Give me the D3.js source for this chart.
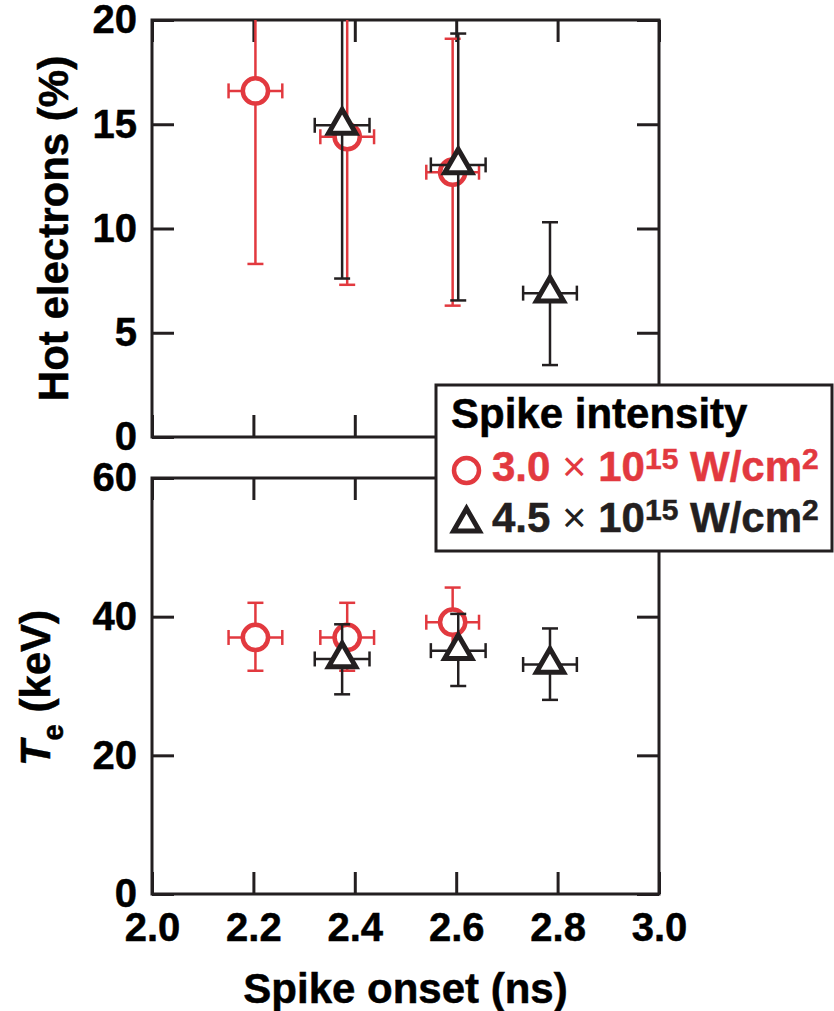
<!DOCTYPE html>
<html>
<head>
<meta charset="utf-8">
<script src="https://cdn.jsdelivr.net/npm/d3@7"></script>
<style>
  html, body { margin: 0; padding: 0; background: #fff; }
  svg text { font-family: "Liberation Sans", Arial, Helvetica, sans-serif; font-weight: bold; }
</style>
</head>
<body>
<div id="chart"></div>
<script>
// Spike onset (ns) for each series, shared by both panels
const redOnset = [2.204, 2.385, 2.593];
const redOnsetErr = [0.053, 0.053, 0.052];
const blackOnset = [2.375, 2.604, 2.785];
const blackOnsetErr = [0.054, 0.054, 0.053];

// Hot electrons (%) -- upper limits above 20 run off the top of the panel
const redHot = [16.6, 14.4, 12.7];
const redHotLow = [8.3, 7.3, 6.3];
const redHotHigh = [25, 25, 19.1];
const blackHot = [14.95, 13.05, 6.9];
const blackHotLow = [7.6, 6.55, 3.45];
const blackHotHigh = [25, 19.35, 10.3];

// Te (keV)
const redTe = [37.0, 37.0, 39.2];
const redTeLow = [32.2, 32.2, 34.2];
const redTeHigh = [42.0, 42.0, 44.2];
const blackTe = [33.9, 35.1, 33.1];
const blackTeLow = [28.8, 30.0, 28.0];
const blackTeHigh = [38.9, 40.4, 38.3];

const xTicks = [2.0, 2.2, 2.4, 2.6, 2.8, 3.0];
const hotTicks = [0, 5, 10, 15, 20];
const teTicks = [0, 20, 40, 60];

const RED = "#e2393f";
const INK = "#231f20";

const width = 834, height = 1011;
const svg = d3.select("#chart").append("svg")
  .attr("width", width)
  .attr("height", height);

const x = d3.scaleLinear().domain([2.0, 3.0]).range([152, 659]);
const yHot = d3.scaleLinear().domain([0, 20]).range([437, 20]);
const yTe = d3.scaleLinear().domain([0, 60]).range([894, 478]);

function rows(xs, xe, ys, lo, hi) {
  return xs.map((v, i) => ({ x: v, xe: xe[i], y: ys[i], lo: lo[i], hi: hi[i] }));
}

const triangle = d3.symbol(d3.symbolTriangle, 320);
const circle = d3.symbol(d3.symbolCircle, Math.PI * 12.6 * 12.6);

function drawPanel(name, y, ticks, series, showX) {
  const [r0, r1] = y.range();
  const g = svg.append("g").attr("class", name);

  g.append("clipPath").attr("id", "clip-" + name)
    .append("rect")
    .attr("x", x(2.0)).attr("y", r1)
    .attr("width", x(3.0) - x(2.0)).attr("height", r0 - r1);

  // axes, ticks pointing inward on all four sides
  g.append("g").attr("transform", `translate(${x(2.0)},0)`)
    .call(d3.axisLeft(y).tickValues(ticks).tickSize(-22).tickSizeOuter(0).tickPadding(15));
  g.append("g").attr("transform", `translate(${x(3.0)},0)`)
    .call(d3.axisRight(y).tickValues(ticks).tickSize(-22).tickSizeOuter(0).tickFormat(""));
  g.append("g").attr("transform", `translate(0,${r1})`)
    .call(d3.axisTop(x).tickValues(xTicks).tickSize(-22).tickSizeOuter(0).tickFormat(""));
  g.append("g").attr("transform", `translate(0,${r0})`)
    .call(d3.axisBottom(x).tickValues(xTicks).tickSize(-22).tickSizeOuter(0)
      .tickPadding(19).tickFormat(showX ? d3.format(".1f") : ""));

  g.selectAll(".domain").remove();
  g.selectAll(".tick line").attr("stroke", INK).attr("stroke-width", 3);
  g.selectAll(".tick text")
    .attr("fill", "#000").attr("stroke", "#000").attr("stroke-width", 0.5)
    .style("font-size", "40px");

  g.append("rect")
    .attr("x", x(2.0)).attr("y", r1)
    .attr("width", x(3.0) - x(2.0)).attr("height", r0 - r1)
    .attr("fill", "none").attr("stroke", INK).attr("stroke-width", 3);

  const data = g.append("g").attr("clip-path", `url(#clip-${name})`);

  series.forEach(s => {
    const bars = data.append("g").selectAll("g").data(s.rows).join("g")
      .attr("stroke", s.color).attr("stroke-width", 2.5).attr("fill", "none");
    // vertical error
    bars.append("line")
      .attr("x1", d => x(d.x)).attr("x2", d => x(d.x))
      .attr("y1", d => y(d.lo)).attr("y2", d => y(d.hi));
    bars.append("line")
      .attr("x1", d => x(d.x) - 8).attr("x2", d => x(d.x) + 8)
      .attr("y1", d => y(d.lo)).attr("y2", d => y(d.lo));
    bars.append("line")
      .attr("x1", d => x(d.x) - 8).attr("x2", d => x(d.x) + 8)
      .attr("y1", d => y(d.hi)).attr("y2", d => y(d.hi));
    // horizontal error
    bars.append("line")
      .attr("x1", d => x(d.x - d.xe)).attr("x2", d => x(d.x + d.xe))
      .attr("y1", d => y(d.y)).attr("y2", d => y(d.y));
    bars.append("line")
      .attr("x1", d => x(d.x - d.xe)).attr("x2", d => x(d.x - d.xe))
      .attr("y1", d => y(d.y) - 7.5).attr("y2", d => y(d.y) + 7.5);
    bars.append("line")
      .attr("x1", d => x(d.x + d.xe)).attr("x2", d => x(d.x + d.xe))
      .attr("y1", d => y(d.y) - 7.5).attr("y2", d => y(d.y) + 7.5);

    data.append("g").selectAll("path").data(s.rows).join("path")
      .attr("transform", d => `translate(${x(d.x)},${y(d.y)})`)
      .attr("d", s.shape === "circle" ? circle() : triangle())
      .attr("fill", "#fff").attr("stroke", s.color)
      .attr("stroke-width", s.shape === "circle" ? 4.5 : 5);
  });
}

drawPanel("hot", yHot, hotTicks, [
  { color: RED, shape: "circle", rows: rows(redOnset, redOnsetErr, redHot, redHotLow, redHotHigh) },
  { color: INK, shape: "triangle", rows: rows(blackOnset, blackOnsetErr, blackHot, blackHotLow, blackHotHigh) }
], false);

drawPanel("te", yTe, teTicks, [
  { color: RED, shape: "circle", rows: rows(redOnset, redOnsetErr, redTe, redTeLow, redTeHigh) },
  { color: INK, shape: "triangle", rows: rows(blackOnset, blackOnsetErr, blackTe, blackTeLow, blackTeHigh) }
], true);

// axis titles
const titleStyle = sel => sel
  .attr("fill", "#000").attr("stroke", "#000").attr("stroke-width", 0.5)
  .style("font-size", "42px");

svg.append("text")
  .attr("transform", `translate(68,${(yHot.range()[0] + yHot.range()[1]) / 2}) rotate(-90)`)
  .attr("text-anchor", "middle")
  .call(titleStyle)
  .text("Hot electrons (%)");

const teTitle = svg.append("text")
  .attr("transform", `translate(50,${(yTe.range()[0] + yTe.range()[1]) / 2 + 2}) rotate(-90)`)
  .attr("text-anchor", "middle")
  .call(titleStyle);
teTitle.append("tspan").style("font-style", "italic").text("T");
teTitle.append("tspan").attr("dy", 13).style("font-size", "29px").text("e");
teTitle.append("tspan").attr("dy", -13).text(" (keV)");

svg.append("text")
  .attr("x", (x(2.0) + x(3.0)) / 2)
  .attr("y", 1003)
  .attr("text-anchor", "middle")
  .call(titleStyle)
  .text("Spike onset (ns)");

// legend
const legendItems = [
  { label: "3.0", color: RED, shape: "circle" },
  { label: "4.5", color: INK, shape: "triangle" }
];

const legend = svg.append("g").attr("transform", "translate(436,385)");
legend.append("rect")
  .attr("width", 396).attr("height", 166)
  .attr("fill", "#fff").attr("stroke", INK).attr("stroke-width", 3);
legend.append("text")
  .attr("x", 15).attr("y", 43)
  .call(titleStyle)
  .text("Spike intensity");

const item = legend.selectAll(".item").data(legendItems).join("g")
  .attr("class", "item")
  .attr("transform", (d, i) => `translate(0,${96 + i * 51})`);

item.append("path")
  .attr("transform", d => d.shape === "circle" ? "translate(30.5,-10.5)" : "translate(30.5,-8.5)")
  .attr("d", d => d.shape === "circle"
    ? d3.symbol(d3.symbolCircle, Math.PI * 12.5 * 12.5)()
    : d3.symbol(d3.symbolTriangle, 290)())
  .attr("fill", "#fff")
  .attr("stroke", d => d.color)
  .attr("stroke-width", d => d.shape === "circle" ? 4.5 : 5);

const lt = item.append("text")
  .attr("x", 56)
  .attr("fill", d => d.color)
  .attr("stroke", d => d.color)
  .attr("stroke-width", 0.5)
  .style("font-size", "42px");
lt.append("tspan").text(d => d.label + " ");
lt.append("tspan").style("font-weight", "normal").attr("stroke-width", 0).text("\u00d7");
lt.append("tspan").text(" 10");
lt.append("tspan").attr("dy", -12).style("font-size", "30px").text("15");
lt.append("tspan").attr("dy", 12).text(" W/cm");
lt.append("tspan").attr("dy", -12).style("font-size", "30px").text("2");
</script>
</body>
</html>
